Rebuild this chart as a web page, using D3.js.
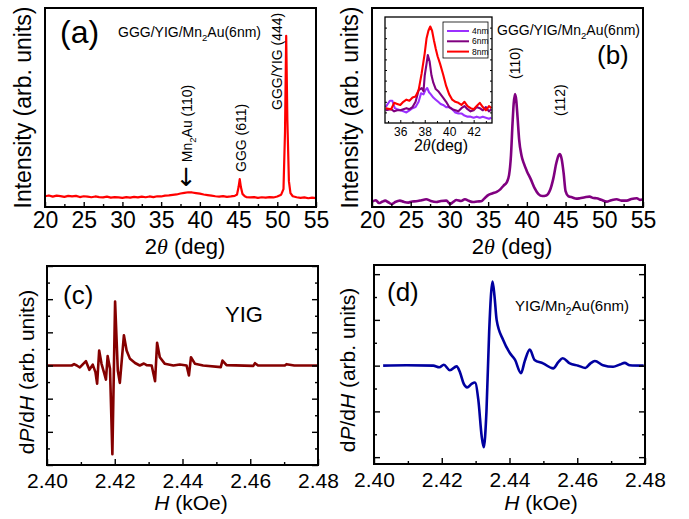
<!DOCTYPE html>
<html>
<head>
<meta charset="utf-8">
<script src="https://d3js.org/d3.v7.min.js"></script>
<style>
html,body{margin:0;padding:0;background:#fff;}
svg{display:block;}
text{font-family:"Liberation Sans",Arial,Helvetica,sans-serif;fill:#000;}
</style>
</head>
<body>
<svg id="fig" width="689" height="519"></svg>
<script>
// ---------------- DATA ----------------
const xrdTickLabels = [20,25,30,35,40,45,50,55];
const xrdMinorTicks = [22.5,27.5,32.5,37.5,42.5,47.5,52.5];
const fmrTickLabels = [2.40,2.42,2.44,2.46,2.48];
const fmrMinorTicks = [2.41,2.43,2.45,2.47];
const insetTickLabels = [36,38,40,42];
const insetMinorTicks = [35,37,39,41,43];
const insetSeries = ["4nm","6nm","8nm"];

// (a) XRD GGG/YIG/Mn2Au(6nm): [2theta, intensity]
const xrdA = [[20,5.4],[20.5,5.8],[21,5.2],[21.5,5.7],[22,5.5],[22.5,5.1],[23,5.6],[23.5,5.3],[24,5.6],[24.5,5.0],
[25,5.4],[25.5,5.2],[26,4.9],[26.5,5.3],[27,5.0],[27.5,4.8],[28,5.2],[28.5,4.7],[29,5.0],[29.5,4.8],
[30,4.6],[30.5,5.0],[31,4.7],[31.5,5.1],[32,4.8],[32.5,5.2],[33,4.9],[33.5,5.3],[34,5.0],[34.5,5.4],
[35,5.3],[35.5,5.7],[36,5.8],[36.5,6.1],[37,6.3],[37.5,6.8],[38,7.1],[38.5,7.4],[39,7.3],[39.5,7.0],
[40,6.7],[40.5,6.3],[41,6.0],[41.5,5.7],[42,5.4],[42.5,5.2],[43,5.5],[43.5,5.1],[44,5.3],[44.5,5.6],
[44.8,6.3],[45.0,10],[45.15,14],[45.3,10],[45.5,6.6],[45.8,5.4],[46,5.0],[46.5,4.8],[47,5.0],[47.5,4.6],
[48,4.9],[48.5,4.7],[49,5.0],[49.5,4.8],[50,5.3],[50.5,6.2],[50.8,9],[51.0,38],[51.15,86],[51.3,44],
[51.5,13],[51.7,7],[52,5.4],[52.5,4.9],[53,4.6],[53.5,4.8],[54,4.4],[54.5,4.7],[55,4.5]];

// (b) XRD main curve (6nm)
const xrdB = [[20,2.7],[20.5,3.4],[20.9,2.0],[21.3,2.6],[21.7,3.2],[22.1,2.4],[22.55,1.5],[23,2.5],[23.6,3.2],[24.1,2.6],
[24.7,2.2],[25.2,2.8],[25.7,2.9],[26.3,3.3],[27,3.9],[27.6,3.0],[28.3,2.5],[28.9,3.0],[29.6,3.2],[30.1,1.5],
[30.5,2.6],[30.9,3.5],[31.5,3.0],[32,3.9],[32.5,3.1],[33.05,2.5],[33.6,2.8],[34.1,2.9],[34.5,4.2],[35.0,6],
[35.6,6.9],[36.1,7.6],[36.6,9],[37,10.8],[37.4,12.4],[37.7,16],[37.95,26],[38.15,42],[38.3,52],[38.47,56.8],
[38.62,54],[38.8,45],[39.0,34],[39.3,26],[39.6,22],[40,18],[40.5,14],[41,9.5],[41.5,6.5],[42,5.5],
[42.5,5.8],[43,8.5],[43.4,14],[43.8,22],[44.1,26],[44.27,26.6],[44.5,24],[44.75,17],[45.0,8],[45.35,5.5],
[45.9,4.8],[46.4,4.2],[46.85,4.4],[47.5,4.9],[48.1,5.2],[48.6,4.5],[49.0,4.4],[49.6,3.6],[50.3,2.7],[50.9,3.4],
[51.6,3.9],[52.2,3.2],[52.9,3.2],[53.5,4.0],[54.2,4.4],[54.6,3.6],[55,3.9]];

// inset: (110) peak for 4, 6, 8 nm
const inset4nm = [[34.8,15],[35.15,21],[35.35,21],[35.55,14],[35.75,13],[36,12],[36.25,11],[36.5,10],[36.75,12],[37,14],
[37.25,15],[37.5,20],[37.7,28],[37.9,27],[38.05,31],[38.2,33],[38.35,29],[38.5,27],[38.7,24],[38.9,22],
[39.1,20],[39.3,18],[39.5,17],[39.75,15],[40,15],[40.25,13],[40.5,10],[40.75,9],[41,9],[41.25,7],
[41.5,6],[41.75,6],[42,5],[42.25,6],[42.5,5],[42.75,6],[43,5],[43.25,4],[43.45,5]];
const inset6nm = [[34.8,12],[35.25,13],[35.5,11],[35.75,12],[36,12],[36.25,13],[36.5,14],[36.75,13],[37,15],[37.25,20],
[37.5,31],[37.75,33],[37.9,30],[38,45],[38.15,56],[38.25,64],[38.4,58],[38.55,45],[38.7,38],[38.9,32],
[39.1,30],[39.3,27],[39.5,24],[39.75,20],[40,15],[40.25,13],[40.5,12],[40.75,11],[41,14],[41.25,16],
[41.5,13],[41.75,11],[42,12],[42.25,15],[42.5,14],[42.75,12],[43,15],[43.25,11],[43.45,13]];
const inset8nm = [[34.8,14],[35.25,13],[35.5,19],[35.75,18],[36,17],[36.25,20],[36.5,22],[36.75,21],[37,24],[37.25,25],
[37.5,31],[37.75,47],[38,66],[38.15,80],[38.3,87],[38.45,91],[38.6,87],[38.75,78],[38.9,70],[39.05,63],
[39.25,56],[39.5,46],[39.75,35],[40,27],[40.25,22],[40.5,20],[40.75,19],[41,17],[41.25,20],[41.5,16],
[41.75,14],[42,13],[42.25,16],[42.5,19],[42.75,15],[43,12],[43.25,16],[43.45,14]];

// (c) FMR YIG: [H (kOe), dP/dH]
const fmrYIG = [[2.40,0],[2.4073,0],[2.408,0.08],[2.4088,0],[2.4097,-0.12],[2.4107,0.1],[2.4115,0.26],[2.4125,-0.26],
[2.4135,0.05],[2.4143,-0.4],[2.4148,-1.1],[2.4154,0.9],[2.4161,0.1],[2.4168,-0.4],[2.4174,-0.85],[2.4179,0.57],
[2.4186,-0.2],[2.4193,-5.35],[2.4201,3.86],[2.4209,-0.3],[2.4215,-1.05],[2.4227,1.82],[2.4235,0.9],[2.4245,0.4],
[2.426,0.15],[2.4274,0],[2.4286,0.12],[2.4294,0.02],[2.4309,0],[2.4319,-0.95],[2.4325,1.37],[2.4333,0.5],
[2.4348,0.1],[2.4373,0],[2.4392,0.06],[2.4412,0],[2.4419,-0.6],[2.4425,0.5],[2.4437,0.1],[2.4461,0],
[2.4513,-0.1],[2.4518,0.3],[2.453,0.02],[2.4609,-0.02],[2.4614,0.14],[2.4623,0],[2.4702,0],[2.4707,0.08],
[2.473,0],[2.48,0]];

// (d) FMR YIG/Mn2Au(6nm)
const fmrYIGMn2Au = [[2.4027,0],[2.4096,0.02],[2.4175,0],[2.4193,-0.07],[2.4206,0.04],[2.4224,-0.2],[2.4244,-0.03],
[2.4254,-0.3],[2.4265,-0.8],[2.4275,-0.95],[2.4288,-0.8],[2.4298,-0.74],[2.4308,-1.5],[2.4318,-3.1],[2.4324,-3.57],
[2.4332,-2.0],[2.434,1.5],[2.435,3.68],[2.4356,3.0],[2.4362,2.0],[2.4381,1.13],[2.4401,0.55],[2.4416,0.26],
[2.4434,-0.33],[2.4445,0.2],[2.446,0.7],[2.4474,0.25],[2.4499,0.1],[2.4529,-0.12],[2.4544,0.15],[2.4557,0.32],
[2.4578,0.1],[2.4603,0],[2.4624,-0.1],[2.4639,0.1],[2.4652,0.2],[2.4676,0.02],[2.4706,-0.05],[2.4726,0.05],
[2.474,0.12],[2.4755,0.02],[2.4796,0]];

// ---------------- DRAWING ----------------
const svg = d3.select('#fig');

function rich(g, parts, size, attrs) {
  const t = g.append('text').attr('font-size', size);
  Object.entries(attrs || {}).forEach(([k,v]) => t.attr(k, v));
  let down = false;
  const sh = size * 0.28;
  parts.forEach(p => {
    const ts = t.append('tspan').text(p.t);
    if (p.it) ts.attr('font-style', 'italic');
    if (p.serif) ts.attr('font-family', '"Liberation Serif","Times New Roman",serif');
    if (p.fs) ts.attr('font-size', p.fs);
    if (p.ff) ts.attr('font-family', p.ff);
    if (p.dy) ts.attr('dy', p.dy);
    if (p.sub) { ts.attr('font-size', size * 0.68); if (!down) { ts.attr('dy', sh); down = true; } }
    else if (down) { ts.attr('dy', -sh); down = false; }
  });
  return t;
}

function styleAxis(sel, fs) {
  sel.select('.domain').remove();
  sel.selectAll('line').attr('stroke', '#000').attr('stroke-width', 1.4);
  sel.selectAll('text').attr('font-size', fs).attr('fill', '#000')
     .attr('font-family', '"Liberation Sans",Arial,sans-serif');
}

function frame(g, x0, y0, x1, y1, sw) {
  g.append('rect').attr('x', x0).attr('y', y0).attr('width', x1 - x0).attr('height', y1 - y0)
   .attr('fill', 'none').attr('stroke', '#000').attr('stroke-width', sw);
}

function xrdAxes(g, x, y1, fs, pad) {
  const gm = g.append('g').attr('transform', `translate(0,${y1})`)
    .call(d3.axisBottom(x).tickValues(xrdMinorTicks).tickSizeInner(-3).tickSizeOuter(0).tickFormat(''));
  styleAxis(gm, fs);
  const gM = g.append('g').attr('transform', `translate(0,${y1})`)
    .call(d3.axisBottom(x).tickValues(xrdTickLabels).tickSizeInner(-5).tickSizeOuter(0).tickPadding(pad).tickFormat(d3.format('d')));
  styleAxis(gM, fs);
}

// ---- Panel (a)
(function(){
  const x0=45,x1=316,y0=8,y1=207;
  const g = svg.append('g');
  const x = d3.scaleLinear().domain([20,55]).range([x0,x1]);
  const y = d3.scaleLinear().domain([0,100]).range([y1,y0]);
  g.append('path').datum(xrdA)
    .attr('d', d3.line().x(d=>x(d[0])).y(d=>y(d[1])))
    .attr('fill','none').attr('stroke','#ff0000').attr('stroke-width',2.2).attr('stroke-linejoin','round');
  xrdAxes(g, x, y1, 23, 5);
  frame(g, x0, y0, x1, y1, 2);
  g.append('text').attr('x', 60).attr('y', 43).attr('font-size', 32).text('(a)');
  rich(g, [{t:'GGG/YIG/Mn'},{t:'2',sub:true},{t:'Au(6nm)'}], 14, {x:118, y:37});
  rich(g, [{t:'GGG/YIG (444)'}], 14, {transform:`translate(${x(51.2)-9},110) rotate(-90)`, dy:'0.35em'});
  rich(g, [{t:'GGG (611)'}], 14, {transform:`translate(${x(45.2)+1},172) rotate(-90)`, dy:'0.35em'});
  rich(g, [{t:'\u2190',fs:25,ff:'"DejaVu Sans",sans-serif',dy:1.5},{t:' Mn',dy:-1.5},{t:'2',sub:true},{t:'Au (110)'}], 14,
       {transform:`translate(${x(39)},187) rotate(-90)`, dy:'0.35em'});
  rich(g, [{t:'Intensity (arb. units)'}], 23, {transform:`translate(23,${(y0+y1)/2}) rotate(-90)`, dy:'0.35em', 'text-anchor':'middle'});
  rich(g, [{t:'2'},{t:'\u03b8',it:true,serif:true},{t:' (deg)'}], 22, {x:185, y:254, 'text-anchor':'middle'});
})();

// ---- Panel (b)
(function(){
  const x0=372,x1=643,y0=8,y1=207;
  const g = svg.append('g');
  const x = d3.scaleLinear().domain([20,55]).range([x0,x1]);
  const y = d3.scaleLinear().domain([0,100]).range([y1,y0]);
  g.append('path').datum(xrdB)
    .attr('d', d3.line().x(d=>x(d[0])).y(d=>y(d[1])).curve(d3.curveMonotoneX))
    .attr('fill','none').attr('stroke','#800080').attr('stroke-width',2.6).attr('stroke-linejoin','round');
  xrdAxes(g, x, y1, 23, 5);
  frame(g, x0, y0, x1, y1, 2);
  g.append('text').attr('x', 597).attr('y', 64).attr('font-size', 26).text('(b)');
  rich(g, [{t:'GGG/YIG/Mn'},{t:'2',sub:true},{t:'Au(6nm)'}], 14, {x:497, y:35});
  rich(g, [{t:'(110)'}], 14, {transform:`translate(${x(38.5)},79) rotate(-90)`, dy:'0.35em'});
  rich(g, [{t:'(112)'}], 14, {transform:`translate(${x(44.3)},116) rotate(-90)`, dy:'0.35em'});
  rich(g, [{t:'Intensity (arb. units)'}], 23, {transform:`translate(350,${(y0+y1)/2}) rotate(-90)`, dy:'0.35em', 'text-anchor':'middle'});
  rich(g, [{t:'2'},{t:'\u03b8',it:true,serif:true},{t:' (deg)'}], 22, {x:512, y:254, 'text-anchor':'middle'});

  // inset
  const ix0=385, ix1=492, iy0=17, iy1=123;
  const ig = svg.append('g');
  const ixs = d3.scaleLinear().domain([34.75,43.5]).range([ix0,ix1]);
  const iys = d3.scaleLinear().domain([0,100]).range([iy1,iy0]);
  ig.append('rect').attr('x',ix0).attr('y',iy0).attr('width',ix1-ix0).attr('height',iy1-iy0).attr('fill','#fff');
  const colors = {"4nm":"#9b30ff","6nm":"#800080","8nm":"#ff0000"};
  const sets = {"4nm":inset4nm,"6nm":inset6nm,"8nm":inset8nm};
  const il = d3.line().x(d=>ixs(d[0])).y(d=>iys(d[1]));
  insetSeries.forEach(s => {
    ig.append('path').datum(sets[s]).attr('d', il).attr('fill','none')
      .attr('stroke', colors[s]).attr('stroke-width', 2.1).attr('stroke-linejoin','round');
  });
  const im = ig.append('g').attr('transform',`translate(0,${iy1})`)
    .call(d3.axisBottom(ixs).tickValues(insetMinorTicks).tickSizeInner(-2).tickSizeOuter(0).tickFormat(''));
  styleAxis(im, 12);
  const iM = ig.append('g').attr('transform',`translate(0,${iy1})`)
    .call(d3.axisBottom(ixs).tickValues(insetTickLabels).tickSizeInner(-3).tickSizeOuter(0).tickPadding(4).tickFormat(d3.format('d')));
  styleAxis(iM, 12);
  const yt = [10,20,30,40,50,60,70,80,90];
  const iL = ig.append('g').attr('transform',`translate(${ix0},0)`)
    .call(d3.axisLeft(iys).tickValues(yt).tickSizeInner(-2).tickSizeOuter(0).tickFormat(''));
  styleAxis(iL, 10);
  const iR = ig.append('g').attr('transform',`translate(${ix1},0)`)
    .call(d3.axisRight(iys).tickValues(yt).tickSizeInner(-2).tickSizeOuter(0).tickFormat(''));
  styleAxis(iR, 10);
  ig.selectAll('line').attr('stroke-width', 1);
  frame(ig, ix0, iy0, ix1, iy1, 1.3);
  rich(ig, [{t:'2'},{t:'\u03b8',it:true,serif:true},{t:'(deg)'}], 16, {x:441, y:151, 'text-anchor':'middle'});
  // legend
  const lg = ig.append('g');
  lg.append('rect').attr('x',443).attr('y',22).attr('width',45).attr('height',36)
    .attr('fill','#fff').attr('stroke','#000').attr('stroke-width',0.8);
  insetSeries.forEach((s,i) => {
    const yy = 31 + i*10.3;
    lg.append('line').attr('x1',447).attr('x2',469).attr('y1',yy).attr('y2',yy)
      .attr('stroke',colors[s]).attr('stroke-width',2);
    lg.append('text').attr('x',472).attr('y',yy).attr('dy','0.35em').attr('font-size',8.5).text(s);
  });
})();

function fmrPanel(opt) {
  const {x0,x1,y0,y1,ydom,data,color,curve} = opt;
  const g = svg.append('g');
  const x = d3.scaleLinear().domain([2.40,2.48]).range([x0,x1]);
  const y = d3.scaleLinear().domain(ydom).range([y1,y0]);
  const ln = d3.line().x(d=>x(d[0])).y(d=>y(d[1]));
  if (curve) ln.curve(curve);
  g.append('path').datum(data).attr('d', ln).attr('fill','none')
    .attr('stroke', color).attr('stroke-width', 2.6).attr('stroke-linejoin','round');
  const bm = g.append('g').attr('transform',`translate(0,${y1})`)
    .call(d3.axisBottom(x).tickValues(fmrMinorTicks).tickSizeInner(-3).tickSizeOuter(0).tickFormat(''));
  styleAxis(bm, 21);
  const bM = g.append('g').attr('transform',`translate(0,${y1})`)
    .call(d3.axisBottom(x).tickValues(fmrTickLabels).tickSizeInner(-6).tickSizeOuter(0).tickPadding(8).tickFormat(d3.format('.2f')));
  styleAxis(bM, 21);
  const lo = Math.ceil(ydom[0]), hi = Math.floor(ydom[1]);
  const all = d3.range(lo, hi + 1);
  const maj = all.filter(v => v % 2 === 0), mnr = all.filter(v => v % 2 !== 0);
  [[x0, d3.axisLeft], [x1, d3.axisRight]].forEach(([px, ax]) => {
    const a1 = g.append('g').attr('transform',`translate(${px},0)`)
      .call(ax(y).tickValues(mnr).tickSizeInner(-3).tickSizeOuter(0).tickFormat(''));
    styleAxis(a1, 10);
    const a2 = g.append('g').attr('transform',`translate(${px},0)`)
      .call(ax(y).tickValues(maj).tickSizeInner(-6).tickSizeOuter(0).tickFormat(''));
    styleAxis(a2, 10);
  });
  frame(g, x0, y0, x1, y1, 2);
  return g;
}

// ---- Panel (c)
(function(){
  const g = fmrPanel({x0:47,x1:318,y0:266,y1:465,ydom:[-6,6],data:fmrYIG,color:'#850000'});
  g.append('text').attr('x', 63).attr('y', 304).attr('font-size', 26).text('(c)');
  g.append('text').attr('x', 225).attr('y', 322).attr('font-size', 22).text('YIG');
  rich(g, [{t:'d'},{t:'P',it:true},{t:'/d'},{t:'H',it:true},{t:' (arb. units)'}], 21,
       {transform:'translate(27,372) rotate(-90)', dy:'0.35em', 'text-anchor':'middle'});
  rich(g, [{t:'H',it:true},{t:' (kOe)'}], 21, {x:191, y:510, 'text-anchor':'middle'});
})();

// ---- Panel (d)
(function(){
  const g = fmrPanel({x0:374,x1:645,y0:265,y1:464,ydom:[-4.3,4.4],data:fmrYIGMn2Au,color:'#0000a0',curve:d3.curveMonotoneX});
  g.append('text').attr('x', 387).attr('y', 301).attr('font-size', 26).text('(d)');
  rich(g, [{t:'YIG/Mn'},{t:'2',sub:true},{t:'Au(6nm)'}], 15, {x:515, y:311});
  rich(g, [{t:'d'},{t:'P',it:true},{t:'/d'},{t:'H',it:true},{t:' (arb. units)'}], 21,
       {transform:'translate(348,370) rotate(-90)', dy:'0.35em', 'text-anchor':'middle'});
  rich(g, [{t:'H',it:true},{t:' (kOe)'}], 21, {x:541, y:510, 'text-anchor':'middle'});
})();
</script>
</body>
</html>
